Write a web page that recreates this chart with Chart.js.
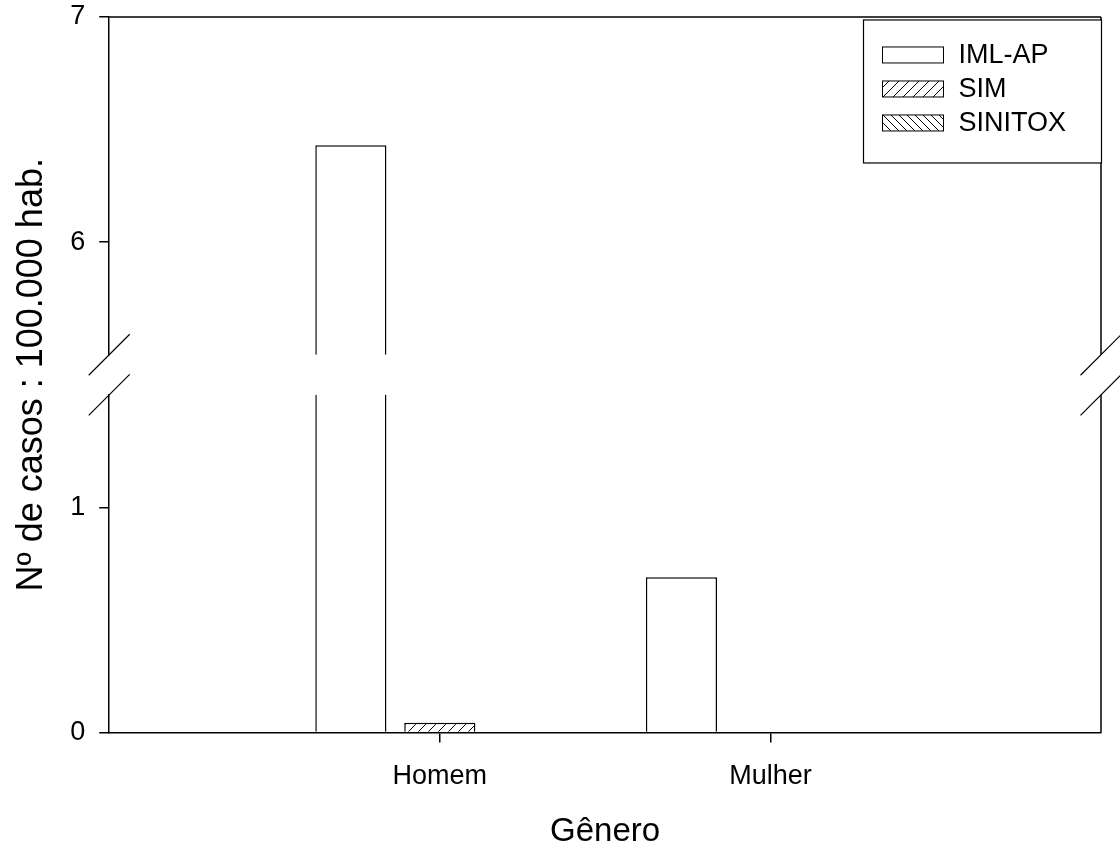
<!DOCTYPE html>
<html lang="pt">
<head>
    <meta charset="UTF-8">
    <title>Nº de casos por gênero</title>
    <style>
        html, body { margin: 0; padding: 0; background: #fff; }
        .chart-box { width: 1120px; height: 849px; }
    </style>
    <script src="https://cdn.jsdelivr.net/npm/chart.js@4/dist/chart.umd.min.js"></script>
</head>
<body>
    <div class="chart-box">
        <canvas id="grafica"></canvas>
    </div>
    <script>
        const categories = ['Homem', 'Mulher'];
        const seriesNames = ['IML-AP', 'SIM', 'SINITOX'];
        const imlAp = [6.43, 0.69];
        const sim = [0.044, 0];
        const sinitox = [0, 0];
        const lowerTicks = [0, 1];
        const upperTicks = [6, 7];
        const lowerRange = [0, 1.5];
        const upperRange = [5.5, 7];

        const FONT = "'Liberation Sans', Arial, sans-serif";

        // hachuras das barras
        function hatch(size, dir) {
            const c = document.createElement('canvas');
            c.width = size; c.height = size;
            const g = c.getContext('2d');
            g.fillStyle = '#fff';
            g.fillRect(0, 0, size, size);
            g.strokeStyle = '#000';
            g.lineWidth = 1;
            g.beginPath();
            for (let k = -1; k <= 1; k++) {
                if (dir > 0) {
                    g.moveTo(k * size, size);
                    g.lineTo(k * size + size, 0);
                } else {
                    g.moveTo(k * size, 0);
                    g.lineTo(k * size + size, size);
                }
            }
            g.stroke();
            return g.createPattern(c, 'repeat');
        }

        const fills = ['#ffffff', hatch(10, 1), hatch(8, -1)];
        const values = [imlAp, sim, sinitox];
        const labels = ['', ...categories, ''];

        const datasets = [];
        ['y', 'y2'].forEach(axis => {
            seriesNames.forEach((name, i) => {
                datasets.push({
                    label: name,
                    data: [null, ...values[i], null],
                    yAxisID: axis,
                    stack: 's' + i,
                    backgroundColor: fills[i],
                    borderColor: '#000',
                    borderWidth: 1.5,
                    categoryPercentage: 0.807,
                    barPercentage: 0.8
                });
            });
        });

        const tickFont = { family: FONT, size: 27 };

        function yAxis(range, ticks, weight) {
            return {
                type: 'linear',
                position: 'left',
                stack: 'v',
                stackWeight: weight,
                stacked: false,
                min: range[0],
                max: range[1],
                afterBuildTicks: s => { s.ticks = ticks.map(v => ({ value: v })); },
                grid: { drawOnChartArea: false, tickLength: 10, color: '#000', lineWidth: 1.5 },
                border: { color: '#000', width: 1.5 },
                // lineHeight baixo só para não empurrar a área do gráfico para baixo
                ticks: { font: { family: FONT, size: 27, lineHeight: 0.22 }, color: '#000', padding: 14 }
            };
        }

        // recorta cada conjunto de barras ao seu eixo
        const clipPlugin = {
            id: 'clipPorEixo',
            beforeDatasetDraw(chart, args) {
                const ys = args.meta.yScale;
                const ctx = chart.ctx;
                ctx.save();
                ctx.beginPath();
                ctx.rect(0, ys.top, chart.width, ys.bottom - ys.top);
                ctx.clip();
            },
            afterDatasetDraw(chart) {
                chart.ctx.restore();
            }
        };

        // moldura, quebras do eixo e legenda
        const framePlugin = {
            id: 'moldura',
            afterDraw(chart) {
                const ctx = chart.ctx;
                const a = chart.chartArea;
                const lo = chart.scales.y;
                const up = chart.scales.y2;
                ctx.save();
                ctx.strokeStyle = '#000';
                ctx.lineWidth = 1.5;
                ctx.beginPath();
                ctx.moveTo(a.left, a.top);
                ctx.lineTo(a.right, a.top);
                ctx.moveTo(a.right, up.top);
                ctx.lineTo(a.right, up.bottom);
                ctx.moveTo(a.right, lo.top);
                ctx.lineTo(a.right, lo.bottom);
                ctx.stroke();

                ctx.lineWidth = 1.2;
                ctx.beginPath();
                [a.left, a.right].forEach(x => {
                    [up.bottom, lo.top].forEach(y => {
                        ctx.moveTo(x - 20.5, y + 20.5);
                        ctx.lineTo(x + 20.5, y - 20.5);
                    });
                });
                ctx.stroke();

                // legenda
                const bw = 238, bh = 143;
                const bx = a.right - bw + 0.5, by = a.top + 3;
                ctx.fillStyle = '#fff';
                ctx.fillRect(bx, by, bw, bh);
                ctx.lineWidth = 1.2;
                ctx.strokeRect(bx, by, bw, bh);
                ctx.font = '27px ' + FONT;
                ctx.textBaseline = 'middle';
                seriesNames.forEach((name, i) => {
                    const sy = by + 27 + i * 34;
                    ctx.fillStyle = fills[i];
                    ctx.fillRect(bx + 19, sy, 61, 16);
                    ctx.lineWidth = 1;
                    ctx.strokeRect(bx + 19, sy, 61, 16);
                    ctx.fillStyle = '#000';
                    ctx.fillText(name, bx + 95, sy + 9);
                });
                ctx.restore();
            }
        };

        const lowerAxis = yAxis(lowerRange, lowerTicks, lowerRange[1] - lowerRange[0]);
        const upperAxis = yAxis(upperRange, upperTicks, upperRange[1] - upperRange[0]);
        const gapAxis = {
            type: 'linear',
            position: 'left',
            stack: 'v',
            stackWeight: 0.178,
            grid: { display: false },
            border: { display: false },
            ticks: { display: false },
            title: {
                display: true,
                text: 'Nº de casos : 100.000 hab.',
                font: { family: FONT, size: 36 },
                color: '#000',
                padding: { top: 0, bottom: 48 }
            }
        };

        const config = {
            type: 'bar',
            data: { labels: labels, datasets: datasets },
            options: {
                responsive: true,
                maintainAspectRatio: false,
                animation: false,
                layout: { padding: { top: 8, right: 19, left: 10, bottom: 1 } },
                plugins: {
                    legend: { display: false },
                    tooltip: { enabled: false }
                },
                scales: {
                    x: {
                        type: 'category',
                        offset: false,
                        grid: {
                            offset: false,
                            drawOnChartArea: false,
                            tickLength: 10,
                            lineWidth: 1.5,
                            color: c => (c.index > 0 && c.index < labels.length - 1) ? '#000' : 'rgba(0,0,0,0)'
                        },
                        border: { color: '#000', width: 1.5 },
                        ticks: { font: tickFont, color: '#000', padding: 18, autoSkip: false, maxRotation: 0 },
                        title: {
                            display: true,
                            text: 'Gênero',
                            font: { family: FONT, size: 33, lineHeight: 1 },
                            color: '#000',
                            padding: { top: 4, bottom: 0 }
                        }
                    },
                    y: lowerAxis,
                    yGap: gapAxis,
                    y2: upperAxis
                }
            },
            plugins: [clipPlugin, framePlugin]
        };

        new Chart(document.getElementById('grafica'), config);
    </script>
</body>
</html>
